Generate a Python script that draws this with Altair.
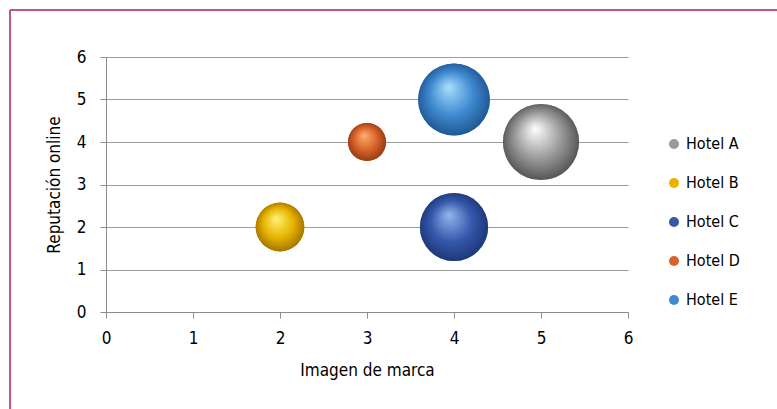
import altair as alt
import pandas as pd

hotels = ["Hotel A", "Hotel B", "Hotel C", "Hotel D", "Hotel E"]
imagen = [5, 2, 4, 3, 4]
reputacion = [4, 2, 2, 4, 5]
tamano = [100, 41, 80, 25, 89]
base_colors = ["#9a9a9a", "#e8b400", "#3558ab", "#d9622a", "#3f8ad0"]
light_colors = ["#ffffff", "#fff27a", "#95b6ee", "#ffb070", "#a8e0ff"]
dark_colors = ["#4a4a4a", "#9a6a00", "#1a3370", "#8a3510", "#1b4f8a"]

df = pd.DataFrame({"hotel": hotels, "x": imagen, "y": reputacion, "s": tamano})

FONT = "Liberation Sans Narrow, DejaVu Sans Condensed, sans-serif"

xs = alt.Scale(domain=[0, 6], nice=False)
ys = alt.Scale(domain=[0, 6], nice=False)
ss = alt.Scale(domain=[0, 100], range=[0, 5800], zero=True)

base = alt.Chart(df).mark_circle(opacity=1).encode(
    x=alt.X("x:Q", scale=xs, title="Imagen de marca",
            axis=alt.Axis(values=[0, 1, 2, 3, 4, 5, 6], format="d", grid=False, tickSize=6,
                          labelPadding=12, titlePadding=16, labelFlush=False)),
    y=alt.Y("y:Q", scale=ys, title="Reputación online",
            axis=alt.Axis(values=[0, 1, 2, 3, 4, 5, 6], format="d", grid=True, tickSize=6,
                          labelPadding=14, titlePadding=13, labelFlush=False)),
    size=alt.Size("s:Q", scale=ss, legend=None),
    color=alt.Color("hotel:N", scale=alt.Scale(domain=hotels, range=base_colors),
                    legend=alt.Legend(title=None, orient="none", legendX=560, legendY=79,
                                      symbolType="circle", symbolSize=100, rowPadding=23,
                                      labelFontSize=16, labelFont=FONT, symbolOpacity=1,
                                      labelColor="#000000", symbolStrokeWidth=0)),
)

layers = [base]
for i, h in enumerate(hotels):
    grad = {
        "gradient": "radial",
        "x1": 0.42, "y1": 0.32, "r1": 0.0,
        "x2": 0.5, "y2": 0.5, "r2": 0.55,
        "stops": [
            {"offset": 0.0, "color": light_colors[i]},
            {"offset": 0.55, "color": base_colors[i]},
            {"offset": 1.0, "color": dark_colors[i]},
        ],
    }
    layers.append(
        alt.Chart(df).transform_filter(alt.datum.hotel == h).mark_circle(fill=grad, opacity=1).encode(
            x=alt.X("x:Q", scale=xs),
            y=alt.Y("y:Q", scale=ys),
            size=alt.Size("s:Q", scale=ss, legend=None),
        )
    )

frame_top = alt.Chart(df).mark_rule(color="#c0587a", strokeWidth=1.5).encode(
    x=alt.value(-96), x2=alt.value(680), y=alt.value(-47)
)
frame_left = alt.Chart(df).mark_rule(color="#c0587a", strokeWidth=1.5).encode(
    x=alt.value(-96), y=alt.value(-47), y2=alt.value(360)
)

chart = alt.layer(*layers, frame_top, frame_left).properties(
    width=522, height=255,
    padding={"left": 106, "top": 57, "right": 149, "bottom": 97},
    autosize=alt.AutoSizeParams(type="none"),
).configure_view(stroke=None).configure_axis(
    labelFont=FONT, titleFont=FONT, labelFontSize=17, titleFontSize=17,
    titleFontWeight="normal", labelColor="#000000", titleColor="#000000",
    domainColor="#8c8c8c", tickColor="#8c8c8c", gridColor="#9c9c9c",
)

chart.save("out.html", embed_options={"renderer": "svg", "actions": False})
